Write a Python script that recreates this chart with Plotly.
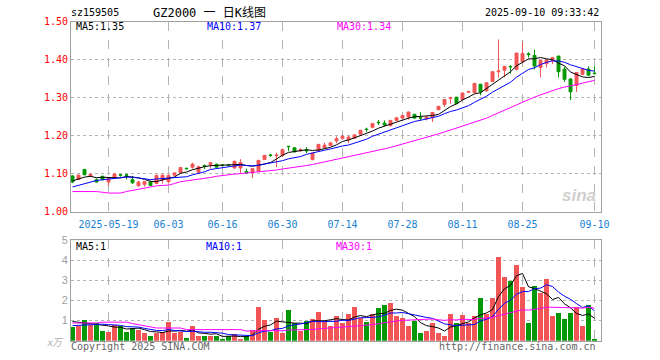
import plotly.graph_objects as go
import pandas as pd

# ---------------- data ----------------
dates = [
    "2025-05-09", "2025-05-12", "2025-05-13", "2025-05-14", "2025-05-15", "2025-05-16",
    "2025-05-19", "2025-05-20", "2025-05-21", "2025-05-22", "2025-05-23",
    "2025-05-26", "2025-05-27", "2025-05-28", "2025-05-29", "2025-05-30",
    "2025-06-03", "2025-06-04", "2025-06-05", "2025-06-06",
    "2025-06-09", "2025-06-10", "2025-06-11", "2025-06-12", "2025-06-13",
    "2025-06-16", "2025-06-17", "2025-06-18", "2025-06-19", "2025-06-20",
    "2025-06-23", "2025-06-24", "2025-06-25", "2025-06-26", "2025-06-27",
    "2025-06-30", "2025-07-01", "2025-07-02", "2025-07-03", "2025-07-04",
    "2025-07-07", "2025-07-08", "2025-07-09", "2025-07-10", "2025-07-11",
    "2025-07-14", "2025-07-15", "2025-07-16", "2025-07-17", "2025-07-18",
    "2025-07-21", "2025-07-22", "2025-07-23", "2025-07-24", "2025-07-25",
    "2025-07-28", "2025-07-29", "2025-07-30", "2025-07-31", "2025-08-01",
    "2025-08-04", "2025-08-05", "2025-08-06", "2025-08-07", "2025-08-08",
    "2025-08-11", "2025-08-12", "2025-08-13", "2025-08-14", "2025-08-15",
    "2025-08-18", "2025-08-19", "2025-08-20", "2025-08-21", "2025-08-22",
    "2025-08-25", "2025-08-26", "2025-08-27", "2025-08-28", "2025-08-29",
    "2025-09-01", "2025-09-02", "2025-09-03", "2025-09-04", "2025-09-05",
    "2025-09-08", "2025-09-09", "2025-09-10",
]

opens = [1.094, 1.085, 1.111, 1.094, 1.084, 1.093, 1.078, 1.088, 1.097, 1.097,
         1.084, 1.068, 1.072, 1.078, 1.074, 1.084, 1.079, 1.096, 1.103, 1.114,
         1.117, 1.104, 1.121, 1.124, 1.125, 1.123, 1.123, 1.115, 1.115, 1.106,
         1.104, 1.106, 1.137, 1.149, 1.147, 1.148, 1.172, 1.168, 1.160, 1.163,
         1.137, 1.161, 1.168, 1.174, 1.186, 1.193, 1.189, 1.193, 1.204, 1.217,
         1.222, 1.235, 1.233, 1.226, 1.240, 1.246, 1.249, 1.256, 1.247, 1.244,
         1.247, 1.268, 1.282, 1.298, 1.301, 1.295, 1.314, 1.313, 1.335, 1.318,
         1.342, 1.368, 1.372, 1.382, 1.374, 1.394, 1.415, 1.411, 1.379, 1.389,
         1.398, 1.409, 1.375, 1.349, 1.332, 1.361, 1.375, 1.364]
highs = [1.096, 1.098, 1.113, 1.100, 1.088, 1.095, 1.089, 1.100, 1.099, 1.100,
         1.094, 1.081, 1.080, 1.082, 1.098, 1.098, 1.098, 1.103, 1.116, 1.116,
         1.129, 1.121, 1.124, 1.130, 1.126, 1.124, 1.124, 1.135, 1.138, 1.113,
         1.114, 1.136, 1.149, 1.152, 1.155, 1.164, 1.172, 1.169, 1.167, 1.170,
         1.155, 1.177, 1.181, 1.181, 1.198, 1.202, 1.200, 1.202, 1.215, 1.221,
         1.232, 1.241, 1.240, 1.241, 1.248, 1.253, 1.263, 1.257, 1.262, 1.250,
         1.262, 1.278, 1.295, 1.302, 1.302, 1.313, 1.318, 1.339, 1.336, 1.339,
         1.368, 1.453, 1.383, 1.385, 1.418, 1.446, 1.419, 1.426, 1.399, 1.400,
         1.407, 1.410, 1.381, 1.350, 1.367, 1.375, 1.382, 1.382]
lows = [1.076, 1.083, 1.096, 1.091, 1.076, 1.083, 1.068, 1.086, 1.092, 1.085,
        1.073, 1.066, 1.066, 1.067, 1.073, 1.074, 1.074, 1.095, 1.102, 1.111,
        1.113, 1.100, 1.112, 1.113, 1.116, 1.119, 1.121, 1.113, 1.100, 1.101,
        1.088, 1.105, 1.136, 1.144, 1.117, 1.144, 1.159, 1.157, 1.158, 1.154,
        1.135, 1.157, 1.166, 1.173, 1.180, 1.189, 1.180, 1.192, 1.203, 1.210,
        1.219, 1.228, 1.225, 1.225, 1.239, 1.245, 1.242, 1.245, 1.240, 1.240,
        1.236, 1.267, 1.275, 1.284, 1.284, 1.293, 1.312, 1.312, 1.306, 1.315,
        1.341, 1.353, 1.353, 1.363, 1.372, 1.392, 1.405, 1.374, 1.353, 1.379,
        1.388, 1.353, 1.341, 1.293, 1.315, 1.360, 1.356, 1.361]
closes = [1.078, 1.096, 1.097, 1.098, 1.078, 1.084, 1.088, 1.099, 1.096, 1.096,
          1.076, 1.078, 1.079, 1.069, 1.095, 1.096, 1.095, 1.102, 1.116, 1.113,
          1.125, 1.118, 1.120, 1.129, 1.117, 1.122, 1.122, 1.132, 1.129, 1.102,
          1.113, 1.135, 1.148, 1.148, 1.149, 1.163, 1.171, 1.157, 1.163, 1.160,
          1.154, 1.177, 1.175, 1.181, 1.192, 1.198, 1.196, 1.202, 1.214, 1.216,
          1.232, 1.234, 1.228, 1.240, 1.247, 1.253, 1.262, 1.246, 1.246, 1.249,
          1.261, 1.277, 1.295, 1.300, 1.284, 1.312, 1.316, 1.337, 1.315, 1.339,
          1.368, 1.370, 1.382, 1.381, 1.417, 1.416, 1.413, 1.383, 1.398, 1.399,
          1.405, 1.368, 1.348, 1.315, 1.366, 1.375, 1.359, 1.363]

# volume in 万
volumes = [0.67, 0.72, 1.05, 0.78, 0.88, 0.50, 0.45, 0.78, 0.72, 0.45,
           0.62, 0.55, 0.40, 0.25, 0.38, 0.42, 0.95, 0.37, 0.45, 0.15,
           0.75, 0.22, 0.25, 0.25, 0.25, 0.10, 0.25, 0.32, 0.10, 0.22,
           0.55, 1.65, 1.05, 0.45, 1.15, 0.37, 1.50, 0.88, 0.47, 0.98,
           1.10, 1.45, 0.95, 0.72, 1.25, 0.88, 1.35, 1.65, 1.12, 0.95,
           1.35, 1.62, 1.75, 1.85, 1.25, 1.12, 0.75, 1.00, 0.37, 0.50,
           0.88, 0.40, 0.25, 1.35, 0.88, 1.30, 0.88, 1.25, 2.12, 1.35,
           2.12, 4.15, 3.15, 2.95, 3.78, 2.65, 0.87, 2.70, 2.38, 3.05,
           1.22, 1.40, 1.10, 1.40, 1.65, 0.72, 1.75, 0.05]

# moving-average values at the left edge (history before the window)
ma5_head = [1.081, 1.086, 1.091, 1.093]
ma10_head = [1.065, 1.069, 1.074, 1.079, 1.082, 1.084, 1.086, 1.088, 1.089]
ma30_head = [1.053, 1.053, 1.053, 1.053, 1.053, 1.051, 1.049, 1.049, 1.049, 1.053,
             1.056, 1.060, 1.063, 1.066, 1.068, 1.069, 1.070, 1.074, 1.079, 1.081,
             1.083, 1.086, 1.088, 1.090, 1.093, 1.095, 1.098, 1.099, 1.100]
vma5_head = [0.95, 0.90, 0.88, 0.85]
vma10_head = [0.75, 0.77, 0.79, 0.81, 0.82, 0.82, 0.80, 0.78, 0.76]
vma30_head = [0.88, 0.88, 0.88, 0.88, 0.88, 0.92, 0.92, 0.92, 0.92, 0.92,
              0.85, 0.80, 0.72, 0.68, 0.63, 0.63, 0.63, 0.63, 0.63, 0.55,
              0.55, 0.55, 0.55, 0.55, 0.55, 0.55, 0.55, 0.55, 0.55]

tick_dates = ["2025-05-19", "2025-06-03", "2025-06-16", "2025-06-30", "2025-07-14",
              "2025-07-28", "2025-08-11", "2025-08-25", "2025-09-10"]
tick_labels = ["2025-05-19", "06-03", "06-16", "06-30", "07-14",
               "07-28", "08-11", "08-25", "09-10"]
price_ticks = [1.00, 1.10, 1.20, 1.30, 1.40, 1.50]
vol_ticks = [1, 2, 3, 4, 5]

ma_labels = ["1.35", "1.37", "1.34"]
vma_labels = ["1", "1", "1"]

# ---------------- derived ----------------
def with_head(values, n, head):
    r = pd.Series(values).rolling(n).mean().tolist()
    return list(head) + r[len(head):]

ma5 = with_head(closes, 5, ma5_head)
ma10 = with_head(closes, 10, ma10_head)
ma30 = with_head(closes, 30, ma30_head)
vma5 = with_head(volumes, 5, vma5_head)
vma10 = with_head(volumes, 10, vma10_head)
vma30 = with_head(volumes, 30, vma30_head)

RED = "#f25555"
GREEN = "#049904"
vol_colors = [RED if c >= o else GREEN for o, c in zip(opens, closes)]

W, H = 660, 360
def fx(x):
    return x / W
def fy(y):
    return 1 - y / H

MONO = "DejaVu Sans Mono"
PL, PR = 71, 601
n = len(dates)
xrange_ = [-0.25, n - 1 + 1.08]

fig = go.Figure()
fig.add_trace(go.Candlestick(
    x=dates, open=opens, high=highs, low=lows, close=closes,
    increasing=dict(line=dict(color=RED, width=1), fillcolor=RED),
    decreasing=dict(line=dict(color=GREEN, width=1), fillcolor=GREEN),
    whiskerwidth=0, xaxis="x", yaxis="y", hoverinfo="skip"))
for vals, col in [(ma5, "#000000"), (ma10, "#0000ff"), (ma30, "#ff00ff")]:
    fig.add_trace(go.Scatter(x=dates, y=vals, mode="lines",
                             line=dict(color=col, width=1), xaxis="x", yaxis="y",
                             hoverinfo="skip"))

fig.add_trace(go.Bar(x=dates, y=volumes, marker=dict(color=vol_colors, line=dict(width=0)),
                     width=0.8, xaxis="x2", yaxis="y2", hoverinfo="skip"))
for vals, col in [(vma5, "#000000"), (vma10, "#0000ff"), (vma30, "#ff00ff")]:
    fig.add_trace(go.Scatter(x=dates, y=vals, mode="lines",
                             line=dict(color=col, width=1), xaxis="x2", yaxis="y2",
                             hoverinfo="skip"))

axis_common = dict(showline=True, mirror=True, linecolor="#a0a0a0", linewidth=1,
                   zeroline=False, fixedrange=True, automargin=False)

fig.update_layout(
    width=W, height=H,
    margin=dict(l=0, r=0, t=0, b=0, autoexpand=False),
    paper_bgcolor="white", plot_bgcolor="white",
    showlegend=False,
    bargap=0,
    xaxis=dict(domain=[fx(PL), fx(PR)], type="category", range=xrange_,
               anchor="y", tickmode="array", tickvals=tick_dates, ticktext=tick_labels,
               tickangle=0,
               tickfont=dict(family=MONO, size=10, color="#1a7fd4"),
               showgrid=True, gridcolor="#b4b4b4", griddash="dash", gridwidth=1,
               rangeslider=dict(visible=False),
               ticks="outside", ticklen=3, tickcolor="rgba(0,0,0,0)", **axis_common),
    yaxis=dict(domain=[fy(211.7), fy(21.5)], range=[1.0, 1.5], anchor="x",
               tickmode="array", tickvals=price_ticks, tickformat=".2f",
               tickfont=dict(family=MONO, size=10, color="#ff0000"),
               showgrid=True, gridcolor="#b4b4b4", griddash="dot", gridwidth=1,
               ticks="", **axis_common),
    xaxis2=dict(domain=[fx(PL), fx(PR)], type="category", range=xrange_,
                anchor="y2", tickmode="array", tickvals=tick_dates,
                showticklabels=False,
                showgrid=True, gridcolor="#b4b4b4", griddash="dash", gridwidth=1,
                ticks="", **axis_common),
    yaxis2=dict(domain=[fy(340.7), fy(240)], range=[0, 5], anchor="x2",
                tickmode="array", tickvals=vol_ticks,
                tickfont=dict(family="Liberation Sans", size=11, color="#a0a0a0"),
                showgrid=True, gridcolor="#b4b4b4", griddash="dot", gridwidth=1,
                ticks="", **axis_common),
)

ann = []
def text(x, y, s, color="#000000", size=10, family=MONO, xanchor="left"):
    ann.append(dict(x=fx(x), y=fy(y), xref="paper", yref="paper", text=s,
                    showarrow=False, xanchor=xanchor, yanchor="middle",
                    font=dict(family=family, size=size, color=color)))

text(69, 13, "sz159505")
text(151, 13, "GZ2000 一 日K线图", size=12, family="DejaVu Sans Mono, Noto Sans CJK SC")
text(601, 13, "2025-09-10 09:33:42", xanchor="right")
text(74, 27, "MA5:" + ma_labels[0])
text(205, 27, "MA10:" + ma_labels[1], color="#0000ff")
text(335, 27, "MA30:" + ma_labels[2], color="#ff00ff")
text(74, 246, "MA5:" + vma_labels[0])
text(204, 246, "MA10:" + vma_labels[1], color="#0000ff")
text(334, 246, "MA30:" + vma_labels[2], color="#ff00ff")
text(69, 346, "Copyright 2025 SINA.COM", color="#666666")
text(598, 346, "http://finance.sina.com.cn", color="#666666", xanchor="right")
text(66, 341, "<i>x万</i>", color="#b0b0b0", size=10, family="Noto Sans CJK SC", xanchor="right")
text(598, 196, "<b><i>sina</i></b>", color="#cfcfcf", size=17, family="Liberation Sans",
     xanchor="right")
fig.update_layout(annotations=ann)

fig.write_html("out.html", config={"displayModeBar": False},
               post_script="document.body.style.margin='0';")
